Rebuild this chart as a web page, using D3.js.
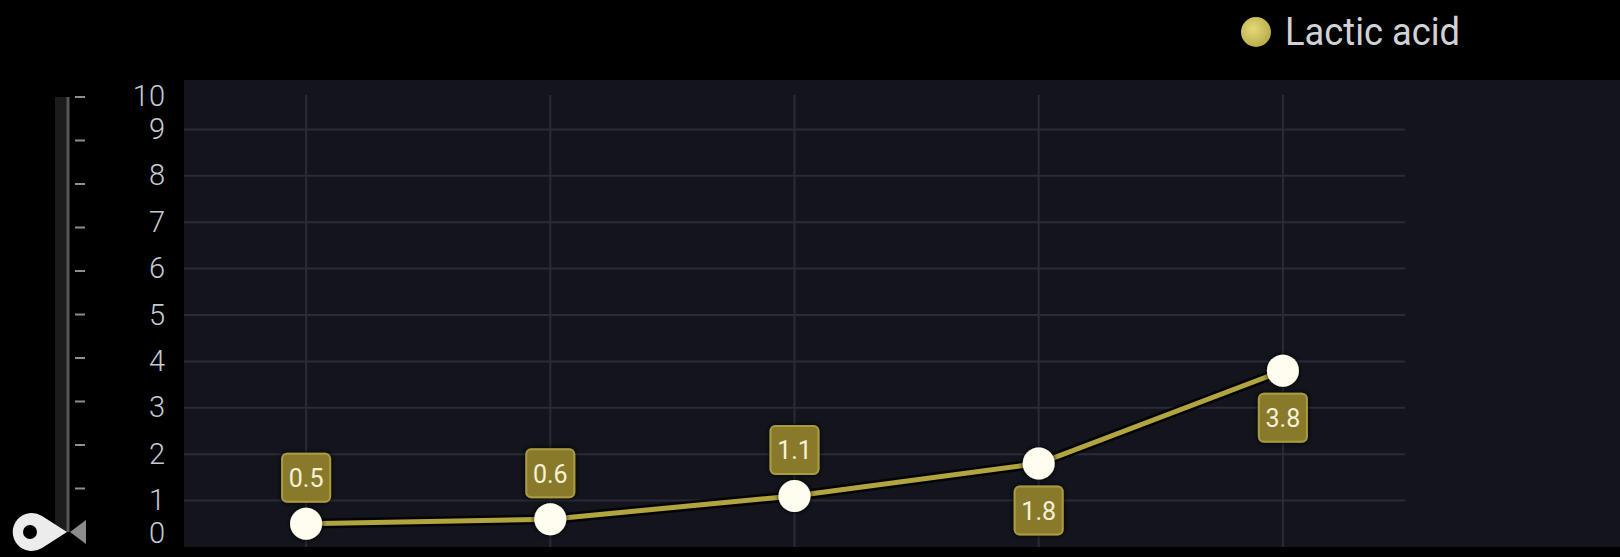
<!DOCTYPE html>
<html>
<head>
<meta charset="utf-8">
<script src="https://cdn.jsdelivr.net/npm/d3@7"></script>
<style>
  html, body { margin: 0; padding: 0; background: #000; }
  svg { display: block; }
</style>
</head>
<body>
<svg id="chart" width="1620" height="557"></svg>
<script>
// ---- data ----
const categories = ["P1", "P2", "P3", "P4", "P5"];
const lacticAcid = [0.5, 0.6, 1.1, 1.8, 3.8];
const yTicks = [0, 1, 2, 3, 4, 5, 6, 7, 8, 9, 10];
const seriesName = "Lactic acid";
const labelBelow = [false, false, false, true, true];

const svg = d3.select("#chart");
const W = 1620, H = 557;

const plot = { left: 184, right: 1405, top: 83, bottom: 547 };

const x = d3.scaleBand().domain(categories).range([plot.left, plot.right]).padding(0);
const y = d3.scaleLinear().domain([0, 10]).range([plot.bottom, plot.top]);
const ySlider = d3.scaleLinear().domain([0, 10]).range([532, 97]);

const defs = svg.append("defs");
const lg = defs.append("radialGradient").attr("id", "legendGrad").attr("cx", "40%").attr("cy", "40%").attr("r", "60%");
lg.append("stop").attr("offset", "0%").attr("stop-color", "#e4d97a");
lg.append("stop").attr("offset", "100%").attr("stop-color", "#bcae4c");

const shadow = defs.append("filter").attr("id", "shadow").attr("x", "-50%").attr("y", "-50%").attr("width", "200%").attr("height", "200%");
shadow.append("feDropShadow").attr("dx", 0).attr("dy", 0).attr("stdDeviation", 2.5).attr("flood-color", "#000").attr("flood-opacity", 1);

// background
svg.append("rect").attr("x", 0).attr("y", 0).attr("width", W).attr("height", H).attr("fill", "#000");
svg.append("rect").attr("x", plot.left).attr("y", 80).attr("width", W - plot.left).attr("height", plot.bottom - 80)
  .attr("fill", "#13141c");

// horizontal grid
svg.append("g").selectAll("line").data(yTicks.filter(d => d > 0 && d < 10)).join("line")
  .attr("x1", plot.left).attr("x2", plot.right)
  .attr("y1", d => y(d)).attr("y2", d => y(d))
  .attr("stroke", "#2a2b36").attr("stroke-width", 2);

// vertical grid at category centres
svg.append("g").selectAll("line").data(categories).join("line")
  .attr("x1", d => x(d) + x.bandwidth() / 2).attr("x2", d => x(d) + x.bandwidth() / 2)
  .attr("y1", 95).attr("y2", plot.bottom)
  .attr("stroke", "#2a2b36").attr("stroke-width", 2);

// y labels
svg.append("g").selectAll("text").data(yTicks).join("text")
  .attr("x", 165)
  .attr("y", d => d === 10 ? y(d) + 15 : d === 0 ? y(d) - 12 : y(d) + 2)
  .attr("text-anchor", "end")
  .attr("dominant-baseline", "middle")
  .attr("font-family", "Roboto, 'DejaVu Sans', sans-serif")
  .attr("font-weight", 300)
  .attr("font-size", 29)
  .attr("fill", "#c6cad2")
  .text(d => d);

// left slider track
svg.append("rect").attr("x", 55).attr("y", ySlider(10)).attr("width", 12).attr("height", ySlider(0) - ySlider(10))
  .attr("fill", "#1c1c1e");
svg.append("line").attr("x1", 68).attr("x2", 68).attr("y1", ySlider(10)).attr("y2", ySlider(0))
  .attr("stroke", "#55555a").attr("stroke-width", 3);
svg.append("g").selectAll("line").data(yTicks).join("line")
  .attr("x1", 75).attr("x2", 85)
  .attr("y1", d => ySlider(d)).attr("y2", d => ySlider(d))
  .attr("stroke", "#8e8e92").attr("stroke-width", 2);

// handle
const hy = ySlider(0);
svg.append("path")
  .attr("d", `M 67 ${hy} L 42 ${hy - 16} A 19 19 0 1 0 42 ${hy + 16} Z`)
  .attr("fill", "#ececec");
svg.append("circle").attr("cx", 30).attr("cy", hy).attr("r", 7).attr("fill", "#000");
svg.append("path")
  .attr("d", `M 70 ${hy} L 86 ${hy - 12} L 86 ${hy + 12} Z`)
  .attr("fill", "#8c8c90");

// line
const pts = categories.map((c, i) => ({ c, v: lacticAcid[i], below: labelBelow[i] }));
const line = d3.line().x(d => x(d.c) + x.bandwidth() / 2).y(d => y(d.v));
svg.append("path").datum(pts).attr("d", line)
  .attr("fill", "none").attr("stroke", "#000").attr("stroke-opacity", 0.8).attr("stroke-width", 10);
svg.append("path").datum(pts).attr("d", line)
  .attr("fill", "none").attr("stroke", "#b2a43e").attr("stroke-width", 5);

// points
svg.append("g").selectAll("circle").data(pts).join("circle")
  .attr("cx", d => x(d.c) + x.bandwidth() / 2).attr("cy", d => y(d.v))
  .attr("r", 16).attr("fill", "#fffdf0").attr("filter", "url(#shadow)");

// labels
const lab = svg.append("g").selectAll("g").data(pts).join("g")
  .attr("transform", d => `translate(${x(d.c) + x.bandwidth() / 2},${y(d.v) + (d.below ? 47 : -46)})`);
lab.append("rect").attr("x", -24).attr("y", -24).attr("width", 48).attr("height", 48).attr("rx", 5)
  .attr("fill", "#887a2c").attr("stroke", "#a99b42").attr("stroke-width", 2).attr("filter", "url(#shadow)");
lab.append("text").attr("text-anchor", "middle").attr("dominant-baseline", "central").attr("y", 1)
  .attr("font-family", "Roboto, 'DejaVu Sans', sans-serif").attr("font-size", 25)
  .attr("fill", "#f6f1d6").text(d => d.v);

// legend
svg.append("circle").attr("cx", 1256).attr("cy", 32).attr("r", 15).attr("fill", "url(#legendGrad)");
svg.append("text").attr("x", 1285).attr("y", 32).attr("dominant-baseline", "central")
  .attr("font-family", "Roboto, 'DejaVu Sans', sans-serif").attr("font-size", 38)
  .attr("textLength", 175).attr("lengthAdjust", "spacingAndGlyphs")
  .attr("fill", "#d0d2d6").text(seriesName);
</script>
</body>
</html>
